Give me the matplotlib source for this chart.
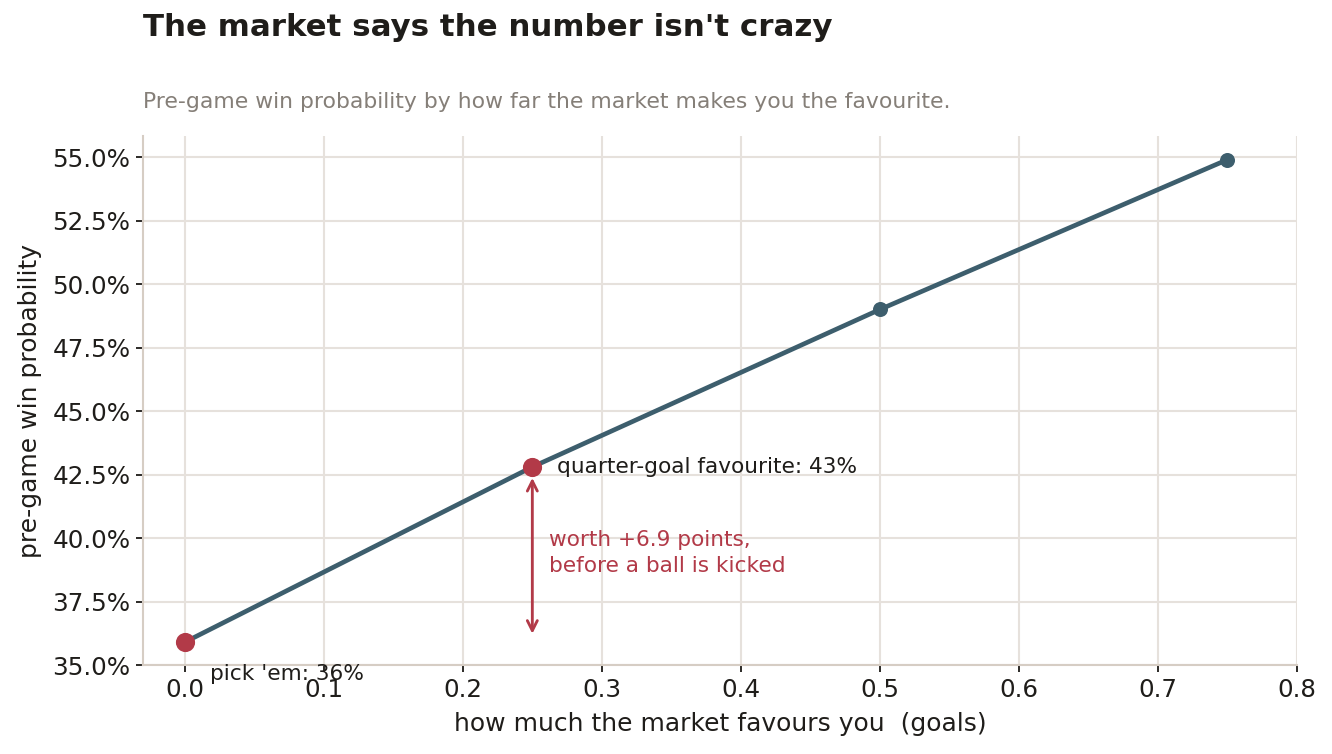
import matplotlib
matplotlib.use("Agg")
import matplotlib.pyplot as plt
from matplotlib.ticker import PercentFormatter

# data
spread = [0.0, 0.25, 0.5, 0.75]
win_prob = [0.359, 0.428, 0.490, 0.549]
highlight_x = [0.0, 0.25]
highlight_y = [0.359, 0.428]
x_ticks = [0.0, 0.1, 0.2, 0.3, 0.4, 0.5, 0.6, 0.7, 0.8]
y_ticks = [0.35, 0.375, 0.40, 0.425, 0.45, 0.475, 0.50, 0.525, 0.55]

line_col = "#3d5e6d"
red = "#b23a48"
ink = "#1f1d1a"
grid_col = "#e6e1dc"
spine_col = "#d6cdc4"

fig = plt.figure(figsize=(1332 / 120, 754 / 120), dpi=120)
ax = fig.add_axes([0.1074, 0.118, 0.8663, 0.7016])

ax.plot(spread, win_prob, color=line_col, lw=2.8, marker="o", ms=8, zorder=3)
ax.plot(highlight_x, highlight_y, "o", color=red, ms=10.5, zorder=4)

ax.set_xlim(-0.03, 0.8)
ax.set_ylim(0.35, 0.5583)
ax.set_xticks(x_ticks)
ax.set_yticks(y_ticks)
ax.yaxis.set_major_formatter(PercentFormatter(1, decimals=1))
ax.grid(True, color=grid_col, lw=1.25, zorder=0)
ax.set_axisbelow(True)

for s in ["top", "right"]:
    ax.spines[s].set_visible(False)
for s in ["left", "bottom"]:
    ax.spines[s].set_color(spine_col)
    ax.spines[s].set_linewidth(1.25)
ax.tick_params(labelsize=14.8, colors=ink, length=4, width=1.1, pad=3.5)

ax.set_xlabel("how much the market favours you  (goals)", fontsize=15, color=ink, labelpad=6.5)
ax.set_ylabel("pre-game win probability", fontsize=15, color=ink, labelpad=6)

# annotations
ax.annotate("quarter-goal favourite: 43%", xy=(highlight_x[1], highlight_y[1]),
            xytext=(15, 0), textcoords="offset points", va="center", ha="left",
            fontsize=13, color=ink)
ax.annotate("pick 'em: 36%", xy=(highlight_x[0], highlight_y[0]),
            xytext=(15, -19), textcoords="offset points", va="center", ha="left",
            fontsize=13, color=ink, annotation_clip=False)
ax.annotate("", xy=(0.25, highlight_y[1] - 0.003), xytext=(0.25, highlight_y[0] + 0.002),
            arrowprops=dict(arrowstyle="<->", color=red, lw=1.7, mutation_scale=15))
ax.text(0.262, 0.3942, "worth +6.9 points,\nbefore a ball is kicked", color=red,
        fontsize=13, va="center", ha="left", linespacing=1.38)

fig.text(143 / 1332, 1 - 28 / 754, "The market says the number isn't crazy",
         fontsize=18.5, fontweight="bold", color=ink, va="center", ha="left")
fig.text(143 / 1332, 1 - 102 / 754,
         "Pre-game win probability by how far the market makes you the favourite.",
         fontsize=13.15, color="#857f78", va="center", ha="left")

fig.savefig("out.png", dpi=120, facecolor="white")
